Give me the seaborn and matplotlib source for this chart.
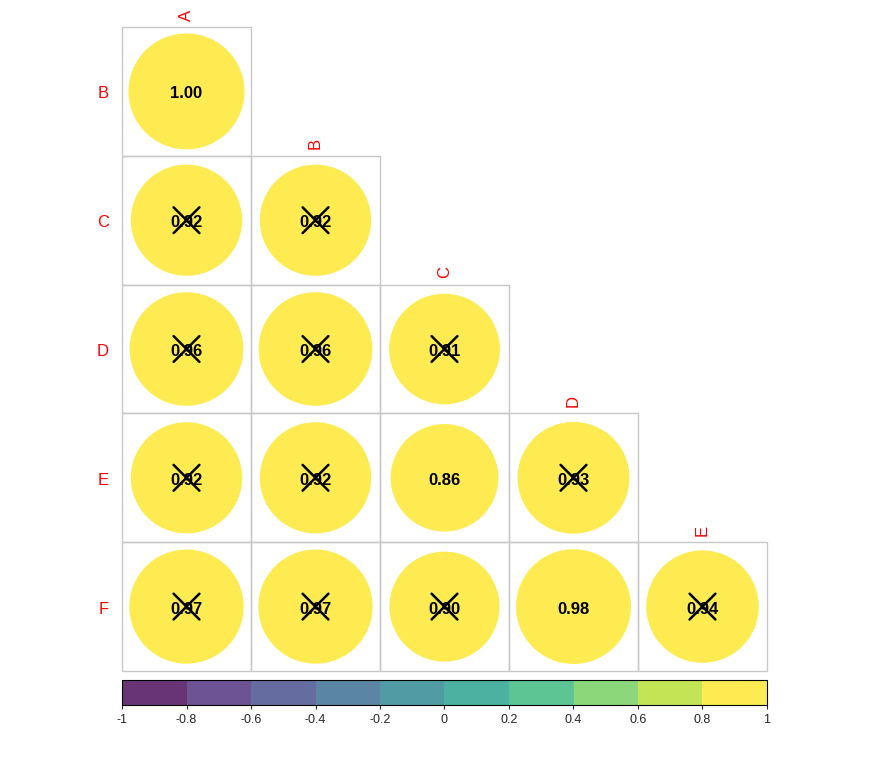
import numpy as np
import matplotlib
matplotlib.use("Agg")
import matplotlib.pyplot as plt
import seaborn as sns
from matplotlib.patches import Circle, Rectangle
from matplotlib.colors import ListedColormap, BoundaryNorm
import matplotlib.colorbar as mcb

sns.set_style("white")
plt.rcParams['font.family'] = ['Liberation Sans', 'DejaVu Sans']

rows = ["B", "C", "D", "E", "F"]
cols = ["A", "B", "C", "D", "E"]
values = [
    [1.00],
    [0.92, 0.92],
    [0.96, 0.96, 0.91],
    [0.92, 0.92, 0.86, 0.93],
    [0.97, 0.97, 0.90, 0.98, 0.94],
]
insignificant = [
    [False],
    [True, True],
    [True, True, True],
    [True, True, False, True],
    [True, True, True, False, True],
]
cbar_ticks = [-1, -0.8, -0.6, -0.4, -0.2, 0, 0.2, 0.4, 0.6, 0.8, 1]
cbar_labels = ["-1", "-0.8", "-0.6", "-0.4", "-0.2", "0", "0.2", "0.4", "0.6", "0.8", "1"]

pal = [tuple(c) for c in plt.cm.viridis(np.linspace(0, 1, 10))]
cmap = ListedColormap(pal)
norm = BoundaryNorm(np.linspace(-1, 1, 11), 10)

W, H = 870, 763
fig = plt.figure(figsize=(W / 100, H / 100), dpi=100)
ax = fig.add_axes([122 / W, (H - 671) / H, 645 / W, 644 / H])
ax.set_xlim(0, 5)
ax.set_ylim(5, 0)
ax.axis("off")

for i, r in enumerate(rows):
    for j, v in enumerate(values[i]):
        ax.add_patch(Rectangle((j, i), 1, 1, fill=False, edgecolor="#c8c8c8", lw=1, clip_on=False))
        rad = 0.45 * np.sqrt(abs(v))
        ax.add_patch(Circle((j + 0.5, i + 0.5), rad, facecolor=cmap(norm(min(v, 0.999))), alpha=0.8, edgecolor="none"))
        ax.text(j + 0.5, i + 0.52, f"{v:.2f}", ha="center", va="center", fontsize=12, fontweight="bold", color="black")
        if insignificant[i][j]:
            d = 0.1
            ax.plot([j + 0.5 - d, j + 0.5 + d], [i + 0.5 - d, i + 0.5 + d], color="black", lw=1.8)
            ax.plot([j + 0.5 - d, j + 0.5 + d], [i + 0.5 + d, i + 0.5 - d], color="black", lw=1.8)
    ax.text(-0.1, i + 0.52, r, ha="right", va="center", fontsize=12, color="red")
for j, c in enumerate(cols):
    ax.text(j + 0.5, j - 0.05, c, ha="center", va="bottom", fontsize=12, color="red", rotation=90)

cax = fig.add_axes([122 / W, (H - 705) / H, 645 / W, 25 / H])
cb = mcb.ColorbarBase(cax, cmap=cmap, norm=norm, orientation="horizontal", alpha=0.8)
cb.set_ticks(cbar_ticks)
cb.set_ticklabels(cbar_labels)
cb.outline.set_edgecolor("black")
cb.outline.set_linewidth(0.8)
cax.tick_params(labelsize=9, length=3, width=0.8, bottom=True)

fig.savefig("out.png", dpi=100)
